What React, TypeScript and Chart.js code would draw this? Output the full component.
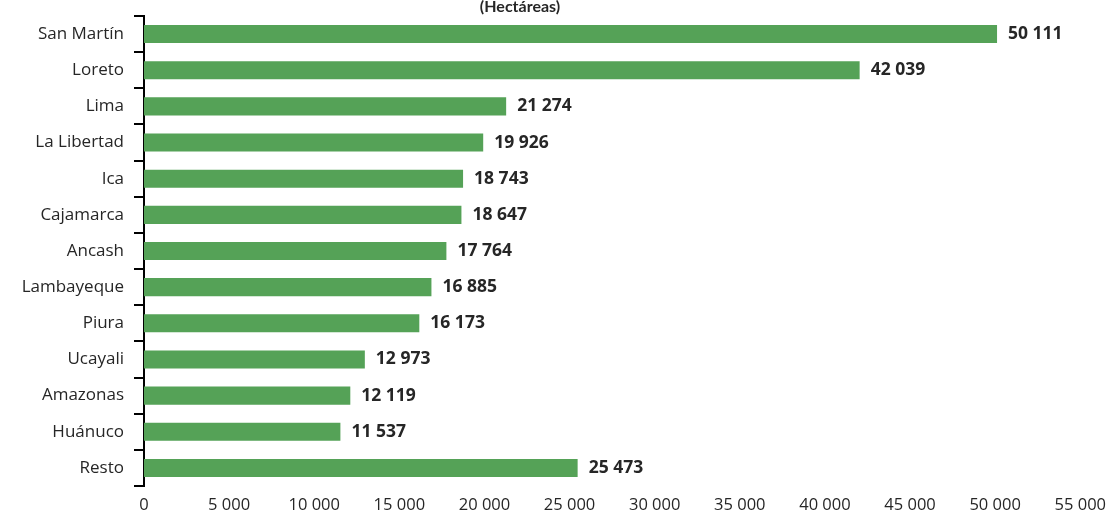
import React, { useEffect, useRef } from "react";
import { Chart, registerables } from "chart.js";

Chart.register(...registerables);

const categories = [
  "San Martín",
  "Loreto",
  "Lima",
  "La Libertad",
  "Ica",
  "Cajamarca",
  "Ancash",
  "Lambayeque",
  "Piura",
  "Ucayali",
  "Amazonas",
  "Huánuco",
  "Resto",
];
const values = [50111, 42039, 21274, 19926, 18743, 18647, 17764, 16885, 16173, 12973, 12119, 11537, 25473];
const titleText = "(Hectáreas)";
const xMax = 55000;
const xStep = 5000;

const fmt = (v: number) => String(Math.round(v)).replace(/\B(?=(\d{3})+(?!\d))/g, " ");

const FONT = "'Open Sans', Lato, sans-serif";

const labelPlugin = {
  id: "valueLabels",
  afterDatasetsDraw(chart: any) {
    const ctx = chart.ctx;
    const meta = chart.getDatasetMeta(0);
    ctx.save();
    ctx.font = `bold 17.5px ${FONT}`;
    ctx.fillStyle = "#262626";
    ctx.textAlign = "left";
    ctx.textBaseline = "middle";
    meta.data.forEach((bar: any, i: number) => {
      ctx.fillText(fmt(values[i]), bar.x + 11, bar.y);
    });
    ctx.restore();
  },
};

const titlePlugin = {
  id: "cutTitle",
  afterDraw(chart: any) {
    const ctx = chart.ctx;
    ctx.save();
    ctx.font = `bold 16px Lato, sans-serif`;
    ctx.fillStyle = "#262626";
    ctx.textAlign = "center";
    ctx.textBaseline = "alphabetic";
    ctx.fillText(titleText, 520, 12);
    ctx.restore();
  },
};

export default function App() {
  const ref = useRef<HTMLCanvasElement | null>(null);
  useEffect(() => {
    document.body.style.margin = "0";
    const chart = new Chart(ref.current!, {
      type: "bar",
      data: {
        labels: categories,
        datasets: [
          {
            data: values,
            backgroundColor: "#55A257",
            borderWidth: 0,
            categoryPercentage: 1,
            barPercentage: 0.5,
          },
        ],
      },
      options: {
        indexAxis: "y",
        animation: false,
        responsive: false,
        maintainAspectRatio: false,
        layout: { autoPadding: false, padding: { top: 16, right: 32, left: 0, bottom: 0 } },
        plugins: {
          legend: { display: false },
          tooltip: { enabled: false },
          title: { display: false },
        },
        scales: {
          x: {
            min: 0,
            max: xMax,
            ticks: {
              stepSize: xStep,
              callback: (v: any) => fmt(Number(v)),
              font: { family: FONT, size: 16.5 },
              color: "#262626",
              padding: 9,
              maxRotation: 0,
            },
            grid: { display: false, drawTicks: false },
            border: { display: false },
            afterFit: (s: any) => {
              s.height = 26;
            },
          },
          y: {
            ticks: {
              font: { family: FONT, size: 17 },
              color: "#262626",
              padding: 10,
            },
            grid: {
              drawOnChartArea: false,
              drawTicks: true,
              tickLength: 10,
              color: "#000",
              lineWidth: 2,
              offset: true,
            },
            border: { display: true, color: "#000", width: 2 },
            afterFit: (s: any) => {
              s.width = 144;
              s.paddingTop = 0;
              s.paddingBottom = 0;
            },
          },
        },
      },
      plugins: [labelPlugin, titlePlugin],
    });
    return () => chart.destroy();
  }, []);
  return (
    <div style={{ position: "fixed", left: 0, top: 0, width: 1115, height: 512, background: "#fff" }}>
      <canvas ref={ref} width={1115} height={512} />
    </div>
  );
}
